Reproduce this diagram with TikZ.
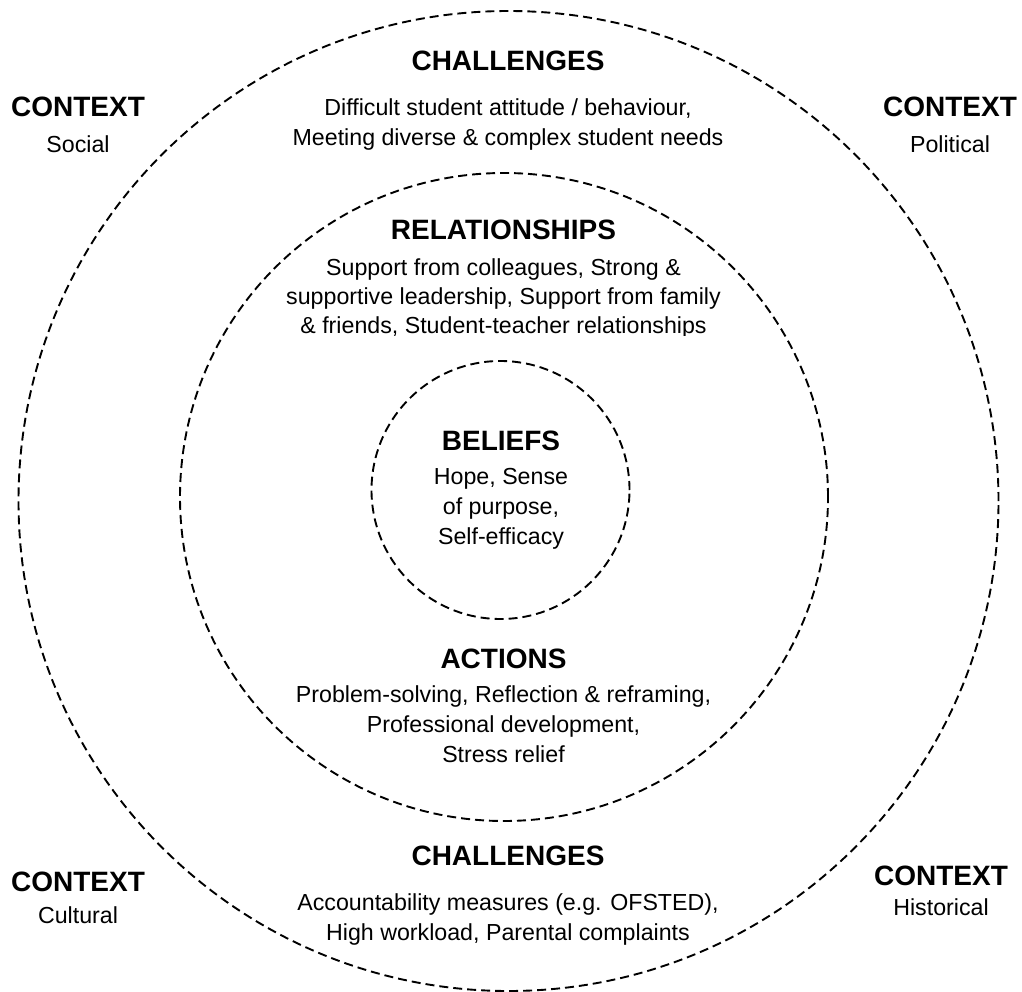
\documentclass[tikz,border=0pt]{standalone}
\usepackage{fontspec}
\setmainfont{Liberation Sans}

\begin{document}
\begin{tikzpicture}[x=1pt,y=-1pt]
\tikzstyle{ring}=[dash pattern=on 9pt off 5pt,line width=1.9pt]
\tikzstyle{head}=[font=\fontsize{28}{34}\selectfont\bfseries,inner sep=0pt,anchor=base]
\tikzstyle{body}=[font=\fontsize{23.2}{30}\selectfont,align=center,inner sep=0pt,anchor=north]

\useasboundingbox (0,0) rectangle (1022,992);
\draw[ring] (508.5,501) circle[radius=490pt];
\draw[ring] (504,497) circle[radius=324pt];
\draw[ring] (500.5,490) circle[radius=129pt];

\node[head](ch1) at (508,71){CHALLENGES};
\node[body](ch1t) at (508,97){\rule{0pt}{18pt}Difficult student attitude / behaviour,\\Meeting diverse \& complex student needs};
\node[head](rel) at (503.5,240){RELATIONSHIPS};
\begin{scope}
\clip (280,250) rectangle (730,335);
\node[body,font=\fontsize{23.2}{29}\selectfont](relt) at (503.5,257){\rule{0pt}{18pt}Support from colleagues, Strong \&\\supportive leadership, Support from family\\\& friends, Student-teacher relationships};
\end{scope}
\node[head](bel) at (501,450){BELIEFS};
\node[body](belt) at (501,466){\rule{0pt}{18pt}Hope, Sense\\of purpose,\\Self-efficacy};
\node[head](act) at (503.5,668){ACTIONS};
\node[body](actt) at (503.5,684){\rule{0pt}{18pt}Problem-solving, Reflection \& reframing,\\Professional development,\\Stress relief};
\node[head](ch2) at (508,865){CHALLENGES};
\node[body](ch2t) at (508,892){\rule{0pt}{18pt}Accountability measures (e.g. OFSTED),\\High workload, Parental complaints};

\node[head](c1) at (78,117){CONTEXT};
\node[body](c1t) at (78,134){\rule{0pt}{18pt}Social};
\node[head](c2) at (950,117){CONTEXT};
\node[body](c2t) at (950,134){\rule{0pt}{18pt}Political};
\node[head](c3) at (78,891){CONTEXT};
\node[body](c3t) at (78,905){\rule{0pt}{18pt}Cultural};
\node[head](c4) at (941,885){CONTEXT};
\node[body](c4t) at (941,897){\rule{0pt}{18pt}Historical};
\end{tikzpicture}
\end{document}
